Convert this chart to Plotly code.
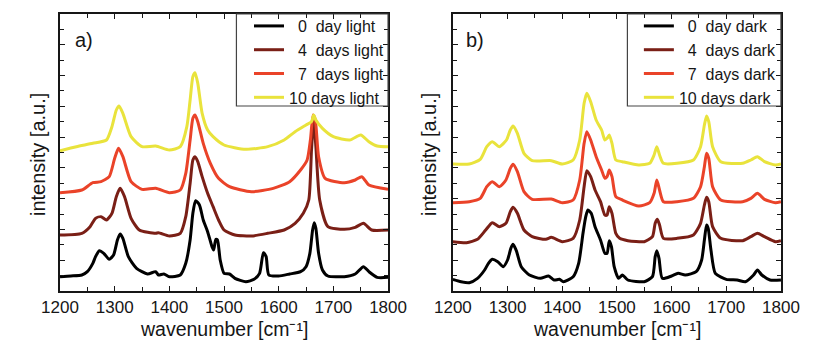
import plotly.graph_objects as go

# ---------- panel a) light ----------
a_d0_x = [1200,1220,1240,1250,1260,1265,1272,1280,1290,1298,1305,1310,1315,1325,1340,1360,1375,1380,1390,1400,1420,1430,1438,1443,1448,1455,1462,1470,1478,1481,1485,1488,1493,1500,1510,1520,1540,1555,1565,1572,1577,1582,1600,1620,1640,1650,1657,1662,1665,1668,1673,1680,1690,1720,1740,1755,1765,1780,1800]
a_d0_y = [4.3,4.5,4.8,5.8,8.3,10.3,12.1,11.3,9.5,10.8,15.3,17.1,15.8,10.3,6.8,5.1,5.8,4.8,5.1,4.3,4.8,8.3,15.3,23.3,27.1,25.8,21.3,17.8,13.3,12.3,15.5,15.3,9.3,5.3,5.1,3.8,2.8,3.5,5.3,11.5,10.3,4.8,4.5,5.1,5.8,7.3,11.3,18.3,20.5,18.8,11.3,6.3,4.5,4.3,5.1,7.3,5.8,4.1,4.1]

a_d4_x = [1200,1240,1255,1265,1275,1285,1295,1303,1310,1318,1330,1345,1375,1380,1400,1420,1430,1438,1443,1447,1452,1460,1470,1480,1490,1500,1520,1550,1580,1610,1630,1645,1655,1660,1664,1668,1675,1690,1720,1740,1755,1770,1800]
a_d4_y = [16.8,17.3,19.3,21.8,22.3,21.3,23.3,28.3,30.8,28.3,21.8,18.3,17.3,17.5,16.5,17.3,22.3,32.3,39.3,40.3,38.8,34.3,29.3,25.3,21.3,18.3,16.8,16.5,17.3,18.3,20.3,23.3,27.3,42.3,51.3,43.3,27.3,19.3,18.5,19.1,20.3,18.3,18.3]

a_d7_x = [1200,1240,1260,1275,1290,1300,1307,1315,1330,1350,1375,1400,1420,1430,1438,1443,1447,1452,1462,1475,1490,1510,1550,1590,1620,1640,1652,1658,1663,1667,1673,1685,1720,1740,1752,1765,1800]
a_d7_y = [29.5,30.3,32.5,32.8,34.3,39.8,42.8,40.3,32.8,30.5,30.8,29.5,30.3,35.3,45.3,51.8,52.8,50.8,44.3,38.3,33.8,31.3,29.8,30.8,32.8,36.3,39.3,45.3,52.8,51.3,40.3,33.8,32.5,33.3,34.3,31.8,30.5]

a_d10_x = [1200,1230,1260,1285,1295,1303,1308,1315,1330,1350,1375,1400,1420,1432,1438,1443,1447,1452,1460,1470,1480,1500,1540,1580,1610,1630,1650,1660,1664,1668,1680,1700,1730,1750,1765,1780,1800]
a_d10_y = [42.1,43.3,44.3,45.3,49.3,54.3,55.5,53.3,46.3,43.3,43.5,42.3,43.3,49.3,57.3,64.3,65.5,62.3,53.3,48.3,46.3,43.8,42.5,43.3,45.3,47.8,49.8,50.8,52.8,51.3,48.8,46.3,45.3,46.8,44.8,43.5,43.3]

# ---------- panel b) dark ----------
b_d0_x = [1200,1215,1230,1245,1258,1265,1272,1282,1292,1300,1306,1310,1316,1325,1340,1360,1375,1385,1395,1402,1420,1430,1438,1443,1447,1453,1460,1470,1478,1482,1486,1490,1495,1503,1510,1520,1550,1565,1570,1573,1577,1583,1600,1612,1625,1645,1655,1660,1664,1667,1672,1680,1700,1720,1735,1750,1757,1765,1780,1800]
b_d0_y = [3.5,2.8,2.5,3.8,6.3,8.3,9.5,8.8,7.3,9.3,12.8,14.0,12.1,7.3,4.8,3.8,4.5,3.3,3.5,2.8,4.3,8.3,17.3,22.3,24.3,23.3,19.3,15.3,11.3,11.3,15.1,13.3,7.3,3.8,4.8,3.3,2.8,4.3,10.3,12.1,9.8,3.8,4.5,5.3,4.8,5.8,9.3,15.3,19.8,18.8,12.3,5.3,3.5,3.3,2.8,4.8,6.3,4.8,3.3,3.3]

b_d4_x = [1200,1225,1245,1260,1272,1285,1297,1305,1310,1318,1330,1345,1370,1380,1400,1420,1432,1440,1445,1452,1460,1470,1478,1482,1486,1491,1498,1505,1520,1550,1565,1570,1574,1578,1585,1610,1640,1653,1660,1664,1668,1675,1690,1730,1745,1757,1770,1790,1800]
b_d4_y = [14.8,14.5,15.5,18.3,20.5,19.3,20.3,23.8,25.1,23.3,18.3,16.3,15.5,16.1,14.8,15.8,21.3,31.3,36.1,34.3,30.3,26.8,22.8,22.8,25.3,23.3,17.3,15.8,15.1,14.8,16.3,20.3,21.5,19.8,15.8,15.8,16.8,20.3,25.8,28.1,26.8,19.3,15.8,15.1,16.3,17.3,16.3,14.8,15.1]

b_d7_x = [1200,1230,1250,1262,1272,1285,1297,1305,1310,1318,1330,1345,1380,1400,1420,1432,1440,1445,1452,1462,1472,1478,1482,1486,1491,1498,1510,1540,1560,1568,1573,1578,1585,1610,1640,1653,1660,1664,1668,1675,1690,1730,1745,1757,1770,1790,1800]
b_d7_y = [26.5,26.8,27.8,31.3,32.8,31.3,33.3,36.8,38.0,35.8,29.8,27.5,27.6,26.5,27.3,33.3,44.3,47.8,45.3,40.3,36.3,33.8,34.3,36.3,34.3,28.3,27.3,25.5,26.5,29.3,33.3,30.3,26.8,26.8,27.8,31.3,37.3,41.3,39.8,31.3,27.3,26.8,27.8,29.3,27.5,26.5,26.8]

b_d10_x = [1200,1230,1250,1262,1272,1285,1298,1305,1310,1318,1330,1345,1380,1400,1420,1432,1440,1445,1452,1462,1472,1478,1482,1486,1491,1498,1510,1540,1560,1568,1573,1578,1585,1610,1640,1653,1660,1664,1668,1675,1690,1730,1745,1757,1770,1790,1800]
b_d10_y = [38.1,38.1,39.5,43.3,44.8,43.3,45.3,48.3,49.5,47.3,41.3,39.1,39.1,38.1,39.3,45.3,56.3,59.3,56.8,51.3,48.3,45.3,45.8,46.8,44.3,39.3,38.8,37.8,38.3,40.8,43.3,40.8,38.3,38.3,39.3,43.3,49.8,52.5,50.8,43.3,38.8,38.3,39.3,40.3,38.8,37.8,38.1]

light_names = ["\u20070\u00a0\u00a0day light", "\u20074\u00a0\u00a0days light",
               "\u20077\u00a0\u00a0days light", "10 days light"]
dark_names = ["\u20070\u00a0\u00a0day dark", "\u20074\u00a0\u00a0days dark",
              "\u20077\u00a0\u00a0days dark", "10 days dark"]
colors = ["#000000", "#7a1f16", "#ea4329", "#e9e33c"]

x_ticks = [1200, 1300, 1400, 1500, 1600, 1700, 1800]
x_range = [1200, 1800]
y_range = [0, 83.1]

FONT = "Liberation Sans, Arial, sans-serif"
INK = "#161616"

fig = go.Figure()
panel_a = [(a_d0_x, a_d0_y), (a_d4_x, a_d4_y), (a_d7_x, a_d7_y), (a_d10_x, a_d10_y)]
panel_b = [(b_d0_x, b_d0_y), (b_d4_x, b_d4_y), (b_d7_x, b_d7_y), (b_d10_x, b_d10_y)]

for (xs, ys), name, c in zip(panel_a, light_names, colors):
    fig.add_trace(go.Scatter(x=xs, y=ys, mode="lines", name=name,
                             line=dict(color=c, width=3, shape="spline", smoothing=0.6),
                             xaxis="x", yaxis="y", legend="legend"))
for (xs, ys), name, c in zip(panel_b, dark_names, colors):
    fig.add_trace(go.Scatter(x=xs, y=ys, mode="lines", name=name,
                             line=dict(color=c, width=3, shape="spline", smoothing=0.6),
                             xaxis="x2", yaxis="y2", legend="legend2"))

xcommon = dict(range=x_range, tickvals=x_ticks, ticks="inside", ticklen=5, tickwidth=1.4,
               tickcolor=INK, showline=True, linecolor=INK, linewidth=1.6,
               mirror="allticks", showgrid=False, zeroline=False,
               tickfont=dict(family=FONT, size=17, color=INK),
               minor=dict(dtick=50, tick0=1200, ticks="inside", ticklen=4, tickwidth=1.4,
                          tickcolor=INK, showgrid=False))
ycommon = dict(range=y_range, tick0=0, dtick=9.24, ticks="inside", ticklen=5, tickwidth=1.4,
               tickcolor=INK, showline=True, linecolor=INK, linewidth=1.6,
               mirror="allticks", showgrid=False, zeroline=False, showticklabels=False,
               minor=dict(dtick=4.62, tick0=0, ticks="inside", ticklen=4, tickwidth=1.4,
                          tickcolor=INK, showgrid=False))

legcommon = dict(yanchor="top", xanchor="right", y=1.018,
                 bgcolor="rgba(255,255,255,0)", borderwidth=0,
                 font=dict(family=FONT, size=16, color=INK),
                 tracegroupgap=0, itemwidth=30)

fig.update_layout(
    width=819, height=340,
    margin=dict(l=0, r=0, t=14, b=49),
    paper_bgcolor="white", plot_bgcolor="white",
    xaxis=dict(domain=[43/819, 387/819], anchor="y", **xcommon),
    yaxis=dict(domain=[0, 1], anchor="x", **ycommon),
    xaxis2=dict(domain=[455/819, 799/819], anchor="y2", **xcommon),
    yaxis2=dict(domain=[0, 1], anchor="x2", **ycommon),
    legend=dict(x=388/819, **legcommon),
    legend2=dict(x=800/819, **legcommon),
    showlegend=True,
)

# legend frames
for x0, x1 in [(228, 387), (638, 799)]:
    fig.add_shape(type="rect", xref="paper", yref="paper",
                  x0=x0/819, x1=x1/819, y0=(291-106)/277, y1=1.0,
                  line=dict(color="#444", width=1.2), fillcolor="rgba(0,0,0,0)")

ann_font = dict(family=FONT, size=20, color=INK)
title_font = dict(family=FONT, size=19.5, color=INK)
fig.add_annotation(text="a)", xref="paper", yref="paper", x=57/819, y=0.906,
                   xanchor="left", yanchor="middle", showarrow=False, font=ann_font)
fig.add_annotation(text="b)", xref="paper", yref="paper", x=467/819, y=0.906,
                   xanchor="left", yanchor="middle", showarrow=False, font=ann_font)
for xd, yd in [("x domain", "y domain"), ("x2 domain", "y2 domain")]:
    fig.add_annotation(text="wavenumber [cm\u207b\u00b9]", xref=xd, yref=yd, x=0.5, y=-0.1354,
                       xanchor="center", yanchor="middle", showarrow=False, font=title_font)
fig.add_annotation(text="intensity [a.u.]", xref="paper", yref="paper", x=20/819, y=0.491,
                   xanchor="center", yanchor="middle", textangle=-90, showarrow=False, font=ann_font)
fig.add_annotation(text="intensity [a.u.]", xref="paper", yref="paper", x=430/819, y=0.491,
                   xanchor="center", yanchor="middle", textangle=-90, showarrow=False, font=ann_font)

fig.write_html("out.html")
